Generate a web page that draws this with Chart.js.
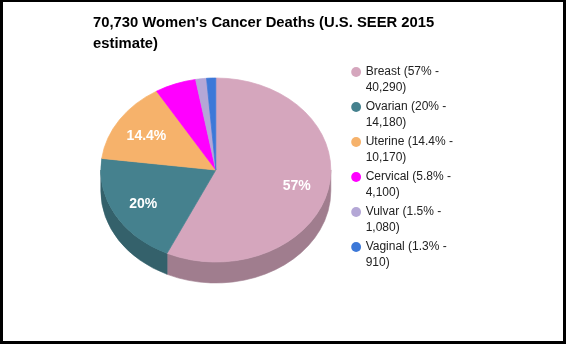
<!DOCTYPE html>
<html>
<head>
<meta charset="utf-8">
<script src="https://cdn.jsdelivr.net/npm/chart.js@4.4.1/dist/chart.umd.min.js"></script>
<style>
  html, body { margin: 0; padding: 0; background: #fff; }
  #wrap { position: relative; width: 566px; height: 344px; }
  #frame {
    position: absolute; left: 0; top: 0; width: 566px; height: 344px;
    box-sizing: border-box; border: 3px solid #000; border-top-width: 2px;
    pointer-events: none;
  }
  canvas { display: block; }
</style>
</head>
<body>
<div id="wrap">
  <canvas id="chart" width="566" height="344"></canvas>
  <div id="frame"></div>
</div>
<script>
// Women's cancer deaths, U.S. SEER 2015 estimate
const titleLines = ["70,730 Women's Cancer Deaths (U.S. SEER 2015", "estimate)"];
const categories = ["Breast", "Ovarian", "Uterine", "Cervical", "Vulvar", "Vaginal"];
const deaths = [40290, 14180, 10170, 4100, 1080, 910];
const sliceColors = ["#d5a6bd", "#45818e", "#f6b26b", "#ff00ff", "#b4a7d6", "#3c78d8"];

const total = deaths.reduce((a, b) => a + b, 0);
const percentText = deaths.map(v => (v / total * 100).toFixed(1).replace(/\.0$/, ""));
const FONT = "'Liberation Sans', Arial, Helvetica, sans-serif";

function shade(hex, f) {
  const n = parseInt(hex.slice(1), 16);
  const r = Math.round(((n >> 16) & 255) * f);
  const g = Math.round(((n >> 8) & 255) * f);
  const b = Math.round((n & 255) * f);
  return `rgb(${r},${g},${b})`;
}

// Empty layout box that keeps some room between the pie and the legend.
// display:false keeps it out of the width share given to the legend.
const legendGap = {
  id: 'legendGap',
  beforeInit(chart, args, opts) {
    Chart.layouts.addBox(chart, {
      position: 'right',
      weight: 0,
      fullSize: false,
      options: { display: false },
      width: 0,
      height: 0,
      isHorizontal() { return false; },
      update(maxWidth, maxHeight) { this.width = opts.width; this.height = maxHeight; },
      draw() {}
    });
  }
};

// Tilts the pie into an ellipse, adds the front wall and writes slice percentages.
const tiltedPie = {
  id: 'tiltedPie',
  beforeDatasetsDraw(chart, args, opts) {
    const arcs = chart.getDatasetMeta(0).data;
    const ctx = chart.ctx;
    const {x: cx, y: cy, outerRadius: r} = arcs[0];
    const ry = r * opts.tilt;
    ctx.save();
    arcs.forEach((arc, i) => {
      const a1 = Math.max(arc.startAngle, 0);
      const a2 = Math.min(arc.endAngle, Math.PI);
      if (a2 <= a1) return;
      const side = shade(sliceColors[i], opts.sideShade);
      ctx.beginPath();
      ctx.ellipse(cx, cy, r, ry, 0, a1, a2);
      ctx.ellipse(cx, cy + opts.depth, r, ry, 0, a2, a1, true);
      ctx.closePath();
      ctx.fillStyle = side;
      ctx.strokeStyle = side;
      ctx.lineWidth = 0.6;
      ctx.fill();
      ctx.stroke();
    });
    ctx.restore();
    ctx.save();
    ctx.translate(0, cy);
    ctx.scale(1, opts.tilt);
    ctx.translate(0, -cy);
  },
  afterDatasetsDraw(chart, args, opts) {
    const ctx = chart.ctx;
    ctx.restore();
    const arcs = chart.getDatasetMeta(0).data;
    ctx.save();
    ctx.fillStyle = '#fff';
    ctx.font = `bold ${opts.labelSize}px ${FONT}`;
    ctx.textAlign = 'center';
    ctx.textBaseline = 'middle';
    arcs.forEach((arc, i) => {
      if (deaths[i] / total < opts.minShare) return;
      const mid = (arc.startAngle + arc.endAngle) / 2;
      const d = arc.outerRadius * opts.labelAt;
      ctx.fillText(percentText[i] + '%', arc.x + d * Math.cos(mid), arc.y + d * opts.tilt * Math.sin(mid) + opts.labelDrop);
    });
    ctx.restore();
  }
};

new Chart(document.getElementById('chart'), {
  type: 'pie',
  data: {
    labels: categories,
    datasets: [{
      data: deaths,
      backgroundColor: sliceColors,
      borderColor: sliceColors,
      borderWidth: 0.8,
      radius: 115,
      clip: false
    }]
  },
  plugins: [legendGap, tiltedPie],
  options: {
    responsive: false,
    animation: false,
    events: [],
    layout: { padding: { left: 93, right: 103, top: 0, bottom: 67 } },
    plugins: {
      legendGap: { width: 11 },
      tiltedPie: { tilt: 0.8, depth: 21, sideShade: 0.75, labelAt: 0.72, labelDrop: 2, labelSize: 14, minShare: 0.08 },
      tooltip: { enabled: false },
      title: {
        display: true,
        text: titleLines,
        align: 'start',
        color: '#000',
        font: { family: FONT, size: 14.8, weight: 'bold', lineHeight: '21px' },
        padding: { top: 12, bottom: 9 }
      },
      legend: {
        position: 'right',
        align: 'start',
        fullSize: false,
        labels: {
          usePointStyle: true,
          pointStyle: 'circle',
          boxWidth: 7,
          boxHeight: 7,
          padding: 3,
          color: '#222',
          font: { family: FONT, size: 12, lineHeight: '16px' },
          generateLabels: () => categories.map((c, i) => ({
            text: [`${c} (${percentText[i]}% -`, `${deaths[i].toLocaleString('en-US')})`],
            fillStyle: sliceColors[i],
            strokeStyle: sliceColors[i],
            lineWidth: 0,
            pointStyle: 'circle',
            fontColor: '#222',
            hidden: false,
            index: i
          }))
        }
      }
    }
  }
});
</script>
</body>
</html>
